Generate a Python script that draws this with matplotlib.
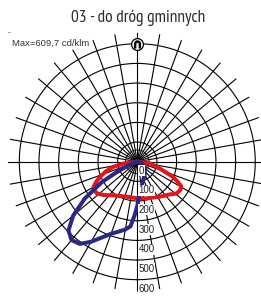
import numpy as np
import matplotlib
matplotlib.use('Agg')
import matplotlib.pyplot as plt

# luminous intensity curves, gamma in degrees (0 = down, + = right), I in cd/klm
gamma_blue = [-90, -70, -65, -60, -55, -50, -45, -40, -35, -30, -25, -20, -15,
              -10, -6, -3, 0, 3, 10, 18, 30, 50, 70, 90]
int_blue = [0, 25, 95, 210, 325, 425, 495, 520, 510, 470, 425, 390, 368,
            350, 330, 275, 225, 175, 125, 98, 75, 50, 25, 0]

gamma_red = [-90, -83, -78, -73, -68, -64, -60, -56, -52, -45, -39, -30, -17,
             0, 14, 33, 45, 51, 57, 61, 64, 67, 73, 83, 90]
int_red = [0, 63, 125, 165, 204, 232, 257, 262, 261, 240, 219, 200, 186,
           186, 192, 212, 235, 257, 262, 255, 225, 198, 121, 65, 0]

rings = [100, 200, 300, 400, 500, 600]
ring_labels = ['0', '100', '200', '300', '400', '500', '600']
title = '03 - do dróg gminnych'
max_text = 'Max=609,7 cd/klm'

fig = plt.figure(figsize=(2.61, 2.98), dpi=100)
ax = fig.add_axes([0.0287, 0.0218, 0.9946, 0.871], projection='polar')
ax.set_theta_zero_location('S')
ax.set_theta_direction(1)
ax.set_rlim(0, 660)
ax.grid(False)
ax.spines['polar'].set_visible(False)
ax.set_xticks([])
ax.set_yticks([])
ax.patch.set_alpha(0)

# grid
t = np.linspace(0, 2 * np.pi, 400)
for r in rings:
    ax.plot(t, np.full_like(t, r), color='black', lw=0.8, zorder=1)
ax.plot(t, np.full_like(t, 60), color='black', lw=0.6, zorder=1)
for a in range(0, 360, 10):
    ax.plot([np.radians(a)] * 2, [0, 655], color='black', lw=0.8, zorder=1)

# curves
ax.plot(np.radians(gamma_red), int_red, color='#e5141b', lw=2.9,
        solid_joinstyle='round', zorder=3)
ax.plot(np.radians(gamma_blue), int_blue, color='#2b2885', lw=2.9,
        solid_joinstyle='round', zorder=4)

# radial value labels along the nadir axis
for i, lab in enumerate(ring_labels):
    ax.annotate(lab, xy=(0, i * 100 + 45), xytext=(1, 0), textcoords='offset points',
                ha='left', va='center', fontsize=7, family='Liberation Sans',
                color='#222222', zorder=5,
                bbox=dict(boxstyle='square,pad=0.05', fc='white', ec='none'))

# lamp symbol at top
ax.plot([np.pi], [600], marker='o', ms=8.5, mfc='white', mec='black', mew=0.9, zorder=5)
ax.plot([np.pi], [600], marker='$\\cap$', ms=5, color='black', zorder=6)

fig.text(0.53, 0.94, title, ha='center', va='center', fontsize=12.5,
         family='PT Sans Narrow', color='#2b2b2b')
fig.text(0.046, 0.855, max_text, ha='left', va='center', fontsize=6.8,
         family='Liberation Sans', color='#333333')
fig.text(0.03, 0.89, '-', ha='left', va='center', fontsize=6,
         family='Liberation Sans', color='#333333')

fig.savefig('out.png', dpi=100)
